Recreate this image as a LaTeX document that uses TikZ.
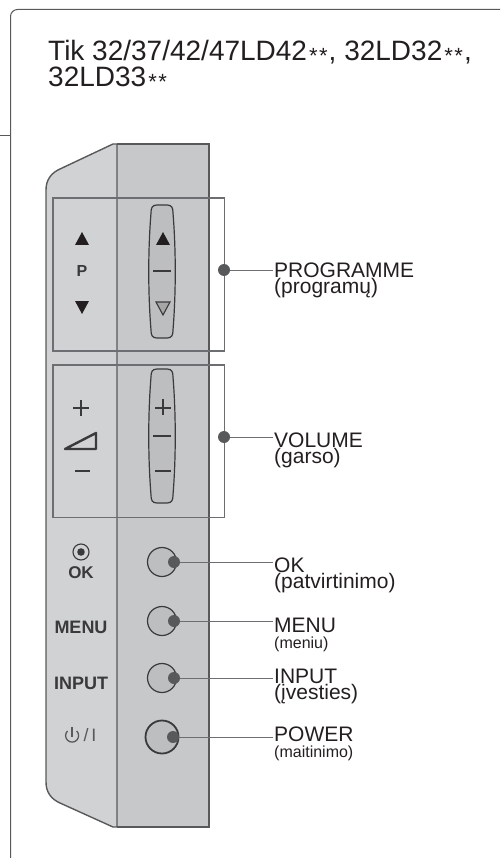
\documentclass[tikz,border=0pt]{standalone}
\usepackage{fontspec}
\setmainfont{Liberation Sans}
\usetikzlibrary{positioning}
\definecolor{linegray}{HTML}{58595B}
\definecolor{bracketgray}{HTML}{6D6E71}
\definecolor{darkline}{HTML}{3A3A3C}
\definecolor{textblack}{HTML}{231F20}
\definecolor{leftface}{HTML}{D1D2D4}
\definecolor{rightface}{HTML}{C7C8CA}
\definecolor{keyface}{HTML}{BCBEC0}
\newcommand{\stars}{\kern2pt\raisebox{-3pt}{\fontsize{22}{22}\selectfont *\kern1.5pt*}\kern1pt}
\begin{document}
\begin{tikzpicture}[
  x=1pt, y=-1pt,
  frameline/.style={draw=linegray, line width=1pt},
  bracket/.style={draw=bracketgray, line width=1.1pt},
  panel/.style={draw=linegray, line width=1.4pt},
  rocker/.style={draw=darkline, line width=1.2pt, fill=keyface},
  keyline/.style={draw=darkline, line width=1.3pt},
  roundkey/.style={circle, draw=darkline, line width=1.2pt, fill=keyface, minimum size=29pt, inner sep=0pt},
  powerkey/.style={roundkey, draw=darkline, line width=1.8pt, minimum size=33pt},
  dot/.style={circle, fill=linegray, minimum size=12pt, inner sep=0pt},
  leader/.style={draw=bracketgray, line width=0.9pt},
  titletext/.style={anchor=base west, inner sep=0pt, text=textblack, align=left, font=\fontsize{28}{26}\selectfont},
  lbl/.style={anchor=base west, inner sep=1.5pt, text=textblack, align=left, font=\fontsize{21}{16}\selectfont},
  facetext/.style={inner sep=0pt, text=darkline, font=\bfseries\fontsize{18}{18}\selectfont}
]
\useasboundingbox (0,0) rectangle (500,858);

% outer frame
\draw[frameline, rounded corners=7pt] (500,9.5) -- (10.5,9.5) -- (10.5,858);
\draw[frameline] (0,136) -- (10.5,136);

\node[titletext] (title) at (48,86.5) {Tik 32/37/42/47LD42\stars, 32LD32\stars,\\32LD33\stars};

% set side view
\fill[rightface] (117,144) rectangle (209,827);
\draw[panel, fill=leftface] (117,144) -- (113,144) -- (60,169)
  .. controls (51,173) and (46,180) .. (46,190) -- (46,782)
  .. controls (46,792) and (51,799) .. (60,803) -- (113,827) -- (117,827) -- cycle;
\draw[panel] (117,144) -- (209,144) -- (209,827) -- (117,827);

% programme and volume keys
\foreach \ytop/\ybot in {205/338, 369/503} {
  \draw[rocker] (157,\ytop) -- (167,\ytop)
    .. controls (172,\ytop) and (173,\ytop+3) .. (173,\ytop+8)
    .. controls (176,\ytop+45) and (176,\ybot-45) .. (173,\ybot-8)
    .. controls (173,\ybot-3) and (172,\ybot) .. (167,\ybot) -- (157,\ybot)
    .. controls (152,\ybot) and (151,\ybot-3) .. (151,\ybot-8)
    .. controls (148,\ybot-45) and (148,\ytop+45) .. (151,\ytop+8)
    .. controls (151,\ytop+3) and (152,\ytop) .. (157,\ytop) -- cycle;
}
\fill[textblack] (163,232) -- (170,245) -- (156,245) -- cycle;
\draw[keyline] (153,271) -- (171,271);
\draw[darkline, line width=1.1pt, fill=gray!70] (156,302) -- (170,302) -- (163,315) -- cycle;
\draw[keyline] (163,399) -- (163,415);
\draw[keyline] (155,408) -- (171,408);
\draw[keyline] (153,436) -- (171,436);
\draw[keyline] (155,471) -- (171,471);

% markings on the left face
\fill[textblack] (82,232) -- (89,245) -- (75,245) -- cycle;
\node[facetext, font=\bfseries\fontsize{16}{16}\selectfont] (plabel) at (82,271) {P};
\fill[textblack] (75,301) -- (89,301) -- (82,314) -- cycle;
\draw[keyline] (81,400) -- (81,416);
\draw[keyline] (73,408) -- (89,408);
\draw[darkline, line width=2.4pt, line join=round] (65,449) -- (96,433) -- (96,449) -- cycle;
\draw[keyline] (75,471) -- (90,471);
\draw[darkline, line width=1.1pt] (81,552) circle (8);
\fill[darkline] (81,552) circle (3.8);
\node[facetext, font=\bfseries\fontsize{17}{17}\selectfont] (oktext) at (81,573) {OK};
\node[facetext] (menutext) at (81,627) {MENU};
\node[facetext] (inputtext) at (81,683) {INPUT};
\draw[linegray, line width=1.3pt] (67.5,731) arc[start angle=-135, end angle=-405, radius=6.5];
\draw[linegray, line width=1.3pt] (72,727) -- (72,737);
\node[inner sep=0pt, text=linegray, font=\fontsize{18}{18}\selectfont] (powertext) at (90,735) {/\,I};

% brackets
\draw[bracket] (53,198) rectangle (224.5,351);
\draw[bracket] (53,365) rectangle (224.5,517.5);

% round keys
\node[roundkey] (okkey) at (162,562) {};
\node[roundkey] (menukey) at (162,621) {};
\node[roundkey] (inputkey) at (162,678) {};
\node[powerkey] (powerkey) at (162,737) {};

\node[dot] (progdot) at (224,270) {};
\node[dot] (voldot) at (224,437) {};
\node[dot] (okdot) at (174,562) {};
\node[dot] (menudot) at (174,621) {};
\node[dot] (inputdot) at (174,678) {};
\node[dot] (powerdot) at (173,737) {};

% labels
\node[lbl] (proglabel) at (272.5,293) {PROGRAMME\\(programų)};
\node[lbl] (vollabel) at (272.5,463) {VOLUME\\(garso)};
\node[lbl] (oklabel) at (272.5,588) {OK\\(patvirtinimo)};
\node[lbl] (menulabel) at (272.5,648) {MENU\\{\fontsize{16}{16}\selectfont (meniu)}};
\node[lbl] (inputlabel) at (272.5,699) {INPUT\\(įvesties)};
\node[lbl] (powerlabel) at (272.5,757) {POWER\\{\fontsize{16}{16}\selectfont (maitinimo)}};

\draw[leader] (progdot) -- (proglabel.west |- progdot);
\draw[leader] (voldot) -- (vollabel.west |- voldot);
\draw[leader] (okdot) -- (oklabel.west |- okdot);
\draw[leader] (menudot) -- (menulabel.west |- menudot);
\draw[leader] (inputdot) -- (inputlabel.west |- inputdot);
\draw[leader] (powerdot) -- (powerlabel.west |- powerdot);
\end{tikzpicture}
\end{document}
